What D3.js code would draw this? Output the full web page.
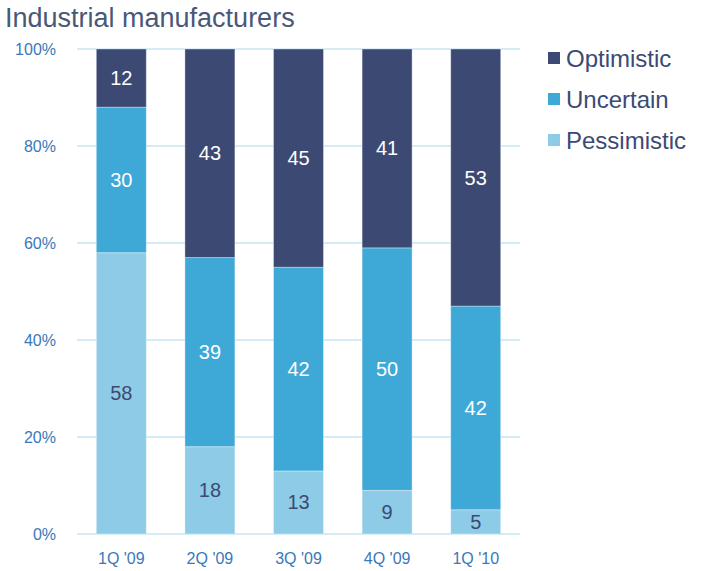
<!DOCTYPE html>
<html>
<head>
<meta charset="utf-8">
<script src="https://cdn.jsdelivr.net/npm/d3@7"></script>
<style>
  html, body { margin: 0; padding: 0; background: #fff; }
  svg { display: block; font-family: "Liberation Sans", Arial, sans-serif; }
</style>
</head>
<body>
<svg id="chart" width="705" height="571"></svg>
<script>
// Survey outlook of industrial manufacturers, share of respondents (%)
const categories = ["1Q '09", "2Q '09", "3Q '09", "4Q '09", "1Q '10"];
const pessimistic = [58, 18, 13, 9, 5];
const uncertain   = [30, 39, 42, 50, 42];
const optimistic  = [12, 43, 45, 41, 53];
const seriesNames = ["Pessimistic", "Uncertain", "Optimistic"];
const yTicks = [0, 20, 40, 60, 80, 100];

const colors = {
  Optimistic: "#3c4a73",
  Uncertain: "#3ea8d7",
  Pessimistic: "#8ecbe6"
};
const labelColors = {
  Optimistic: "#ffffff",
  Uncertain: "#ffffff",
  Pessimistic: "#3c4a73"
};

const rows = categories.map((c, i) => ({
  category: c,
  Pessimistic: pessimistic[i],
  Uncertain: uncertain[i],
  Optimistic: optimistic[i]
}));

const svg = d3.select("#chart");
const plotLeft = 77, plotRight = 520, plotTop = 49, plotBottom = 534;

const x = d3.scaleBand()
  .domain(categories)
  .range([plotLeft, plotRight])
  .paddingInner(0.436)
  .paddingOuter(0.218);

const y = d3.scaleLinear().domain([0, 100]).range([plotBottom, plotTop]);

// Title
svg.append("text")
  .attr("x", 5)
  .attr("y", 27)
  .attr("font-size", 27)
  .attr("fill", "#4a5878")
  .text("Industrial manufacturers");

// Gridlines
svg.append("g")
  .selectAll("line")
  .data(yTicks)
  .join("line")
  .attr("x1", plotLeft)
  .attr("x2", plotRight)
  .attr("y1", d => y(d))
  .attr("y2", d => y(d))
  .attr("stroke", "#d3ecf6")
  .attr("stroke-width", 2);

// Y axis labels
const yAxis = d3.axisLeft(y)
  .tickValues(yTicks)
  .tickFormat(d => d + "%")
  .tickSize(0)
  .tickPadding(0);
const yg = svg.append("g")
  .attr("transform", `translate(56,0)`)
  .call(yAxis);
yg.select(".domain").remove();
yg.selectAll("text")
  .attr("font-size", 16)
  .attr("fill", "#3a78b9")
  .attr("font-family", "Liberation Sans, Arial, sans-serif");

// X axis labels
const xAxis = d3.axisBottom(x).tickSize(0).tickPadding(0);
const xg = svg.append("g")
  .attr("transform", `translate(0,553)`)
  .call(xAxis);
xg.select(".domain").remove();
xg.selectAll("text")
  .attr("font-size", 16)
  .attr("fill", "#3a78b9")
  .attr("dy", "0.71em")
  .attr("font-family", "Liberation Sans, Arial, sans-serif");

// Stacked bars
const stack = d3.stack().keys(seriesNames);
const layers = stack(rows);

const layerG = svg.append("g")
  .selectAll("g")
  .data(layers)
  .join("g")
  .attr("fill", d => colors[d.key]);

layerG.selectAll("rect")
  .data(d => d)
  .join("rect")
  .attr("x", d => x(d.data.category))
  .attr("width", x.bandwidth())
  .attr("y", d => y(d[1]))
  .attr("height", d => y(d[0]) - y(d[1]))
  .attr("stroke", "#ffffff")
  .attr("stroke-opacity", 0.35)
  .attr("stroke-width", 1);

// Value labels
svg.append("g")
  .selectAll("g")
  .data(layers)
  .join("g")
  .each(function(layer) {
    d3.select(this).selectAll("text")
      .data(layer)
      .join("text")
      .attr("x", d => x(d.data.category) + x.bandwidth() / 2)
      .attr("y", d => (y(d[0]) + y(d[1])) / 2)
      .attr("dy", "0.35em")
      .attr("text-anchor", "middle")
      .attr("font-size", 20)
      .attr("fill", labelColors[layer.key])
      .text(d => d.data[layer.key]);
  });

// Legend
const legendItems = ["Optimistic", "Uncertain", "Pessimistic"];
const legend = svg.append("g")
  .selectAll("g")
  .data(legendItems)
  .join("g")
  .attr("transform", (d, i) => `translate(548,${58 + i * 41})`);
legend.append("rect")
  .attr("x", 0)
  .attr("y", -6)
  .attr("width", 12)
  .attr("height", 12)
  .attr("fill", d => colors[d]);
legend.append("text")
  .attr("x", 18)
  .attr("y", 0)
  .attr("dy", "0.36em")
  .attr("font-size", 24)
  .attr("fill", "#3c4a73")
  .text(d => d);
</script>
</body>
</html>
